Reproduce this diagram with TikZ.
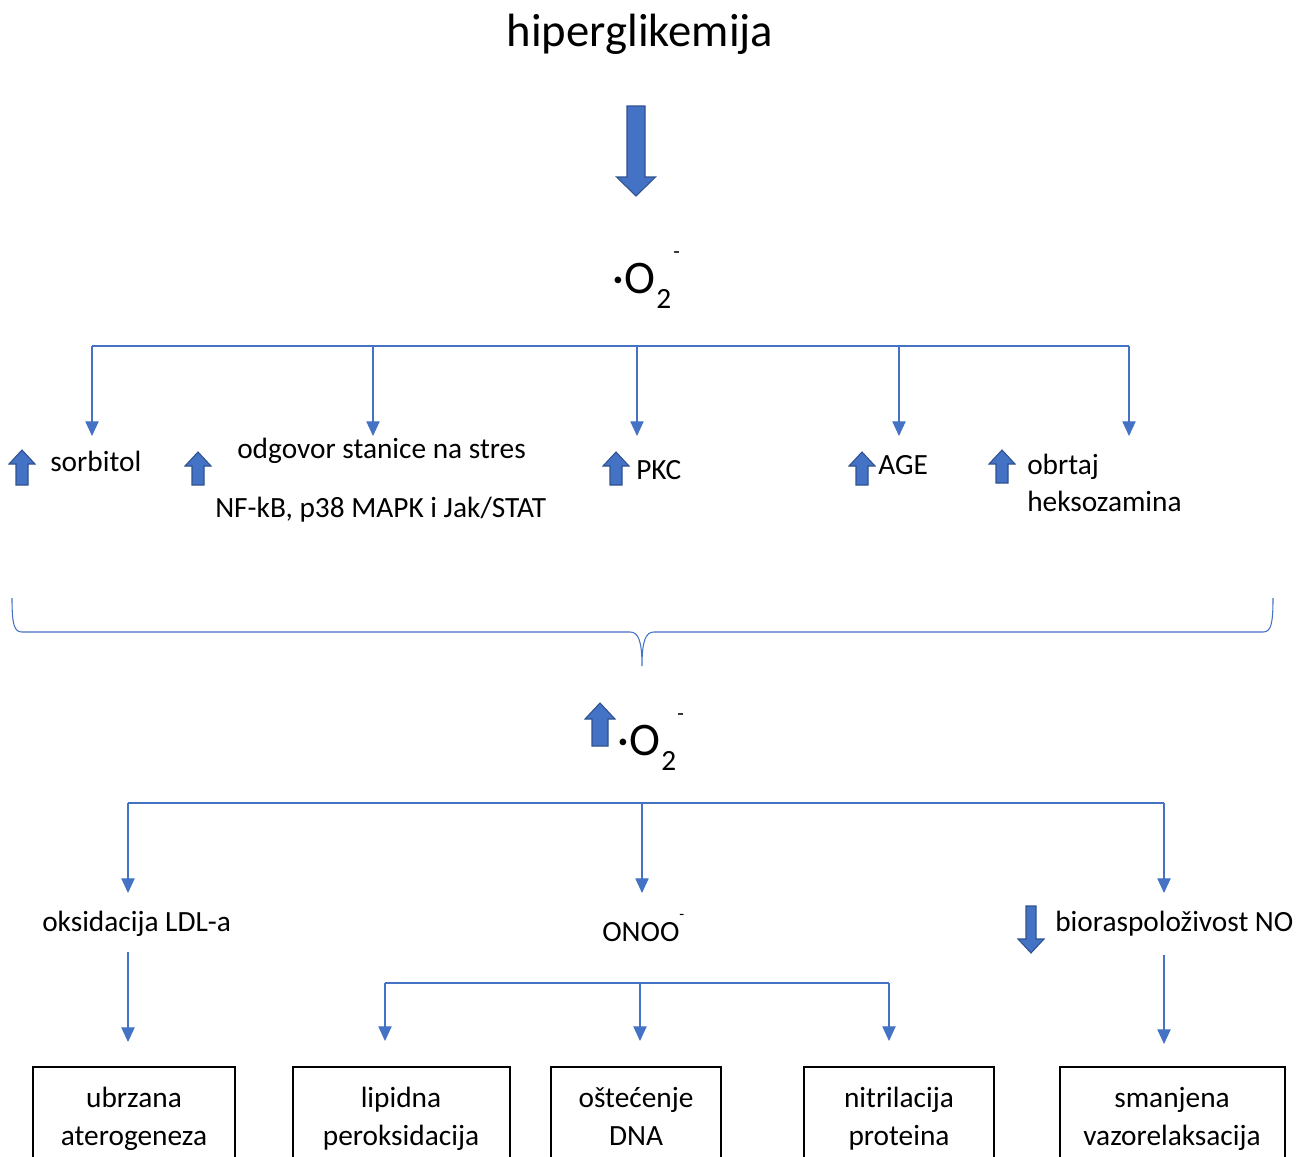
\documentclass[tikz,border=0pt]{standalone}
\usepackage{fontspec}
\setmainfont{Carlito}
\usetikzlibrary{arrows.meta}
\definecolor{cblue}{HTML}{4472C4}
\definecolor{cdark}{HTML}{2F528F}
\newcommand\blkup[6]{% x, ytop, ybot, headw, headh, shaftw
  \draw[blockarrow] (#1-#6/2,#3) -- (#1-#6/2,#2+#5) -- (#1-#4/2,#2+#5) -- (#1,#2) -- (#1+#4/2,#2+#5) -- (#1+#6/2,#2+#5) -- (#1+#6/2,#3) -- cycle;}
\newcommand\blkdown[6]{% x, ytop, ybot(tip), headw, headh, shaftw
  \draw[blockarrow] (#1-#6/2,#2) -- (#1-#6/2,#3-#5) -- (#1-#4/2,#3-#5) -- (#1,#3) -- (#1+#4/2,#3-#5) -- (#1+#6/2,#3-#5) -- (#1+#6/2,#2) -- cycle;}
\begin{document}
\begin{tikzpicture}[x=0.75pt,y=-0.75pt,
  conn/.style={draw=cblue, line width=0.8pt},
  arr/.style={conn, -{Triangle[length=11pt,width=10pt]}},
  blockarrow/.style={fill=cblue, draw=cdark, line width=0.8pt},
  txt/.style={font=\fontsize{22}{28.5}\selectfont, inner sep=0pt},
  bigtxt/.style={font=\fontsize{35}{40}\selectfont, inner sep=0pt},
  subtxt/.style={font=\fontsize{22}{26}\selectfont, inner sep=0pt},
  suptxt/.style={font=\fontsize{16}{18}\selectfont, inner sep=0pt},
  boxline/.style={draw=black, line width=1.5pt}]
\useasboundingbox (0,0) rectangle (1298,1156);
\clip (0,0) rectangle (1298,1156);

% title
\node[bigtxt, anchor=base] (title) at (640,47) {hiperglikemija};
\blkdown{636}{106}{196}{39}{19}{18}

% O2 radical
\node[bigtxt, anchor=base west] (o2a) at (612,293) {·O};
\node[subtxt, anchor=base west] (o2asub) at (656,308) {2};
\node[suptxt, anchor=base west] (o2asup) at (673,258) {-};

% top branch
\coordinate (b1) at (92,346);
\coordinate (b2) at (373,346);
\coordinate (b3) at (637,346);
\coordinate (b4) at (899,346);
\coordinate (b5) at (1129,346);
\draw[conn] (b1) -- (b5);
\coordinate (e1) at (92,436);
\coordinate (e2) at (373,436);
\coordinate (e3) at (637,436);
\coordinate (e4) at (899,436);
\coordinate (e5) at (1129,436);
\foreach \i in {1,...,5} \draw[arr] (b\i) -- (e\i);

% labels row 1
\blkup{22}{450}{485}{26}{14}{12}
\node[txt, anchor=base west] (sorb) at (50,471) {sorbitol};
\blkup{198}{452}{485}{26}{14}{12}
\node[txt, anchor=base west] (odg) at (237,458) {odgovor stanice na stres};
\node[txt, anchor=base west] (nfkb) at (215,517) {NF-kB, p38 MAPK i Jak/STAT};
\blkup{616}{452}{485}{26}{14}{12}
\node[txt, anchor=base west] (pkc) at (636,479) {PKC};
\blkup{862}{452}{485}{26}{14}{12}
\node[txt, anchor=base west] (age) at (878,474) {AGE};
\blkup{1002}{450}{483}{26}{14}{12}
\node[txt, anchor=base west] (obr) at (1027,474) {obrtaj};
\node[txt, anchor=base west] (heks) at (1027,511) {heksozamina};

% brace
\draw[conn] (12,598) .. controls (12,624) and (14,632) .. (22,632) -- (630,632)
  .. controls (638,632) and (642,640) .. (642,666)
  .. controls (642,640) and (646,632) .. (654,632) -- (1263,632)
  .. controls (1271,632) and (1273,624) .. (1273,598);

% second O2
\blkup{600}{703}{746}{30}{16}{16}
\node[bigtxt, anchor=base west] (o2b) at (617,755) {·O};
\node[subtxt, anchor=base west] (o2bsub) at (661,770) {2};
\node[suptxt, anchor=base west] (o2bsup) at (677,720) {-};

% second branch
\coordinate (c1) at (128,803);
\coordinate (c2) at (642,803);
\coordinate (c3) at (1164,803);
\draw[conn] (c1) -- (c3);
\coordinate (f1) at (128,893);
\coordinate (f2) at (642,893);
\coordinate (f3) at (1164,893);
\foreach \i in {1,2,3} \draw[arr] (c\i) -- (f\i);

\node[txt, anchor=base west] (ldl) at (42,931) {oksidacija LDL-a};
\node[txt, anchor=base west] (onoo) at (602,941) {ONOO};
\node[suptxt, font=\fontsize{12}{14}\selectfont, anchor=base west] (onoosup) at (679,919) {-};
\blkdown{1031}{906}{953}{26}{14}{10}
\node[txt, anchor=base west] (bio) at (1055,931) {bioraspoloživost NO};

% lower arrows
\coordinate (g1) at (128,952);
\coordinate (h1) at (128,1042);
\draw[arr] (g1) -- (h1);
\coordinate (g5) at (1164,955);
\coordinate (h5) at (1164,1044);
\draw[arr] (g5) -- (h5);
\coordinate (d1) at (385,983);
\coordinate (d2) at (640,983);
\coordinate (d3) at (889,983);
\draw[conn] (d1) -- (d3);
\coordinate (k1) at (385,1041);
\coordinate (k2) at (640,1041);
\coordinate (k3) at (889,1041);
\foreach \i in {1,2,3} \draw[arr] (d\i) -- (k\i);

% boxes
\draw[boxline] (33,1200) -- (33,1067) -- (235,1067) -- (235,1200);
\draw[boxline] (293,1200) -- (293,1067) -- (510,1067) -- (510,1200);
\draw[boxline] (551,1200) -- (551,1067) -- (721,1067) -- (721,1200);
\draw[boxline] (804,1200) -- (804,1067) -- (994,1067) -- (994,1200);
\draw[boxline] (1060,1200) -- (1060,1067) -- (1285,1067) -- (1285,1200);
\node[txt, anchor=base] (r1a) at (134,1107) {ubrzana};
\node[txt, anchor=base] (r1b) at (134,1145) {aterogeneza};
\node[txt, anchor=base] (r2a) at (401,1107) {lipidna};
\node[txt, anchor=base] (r2b) at (401,1145) {peroksidacija};
\node[txt, anchor=base] (r3a) at (636,1107) {oštećenje};
\node[txt, anchor=base] (r3b) at (636,1145) {DNA};
\node[txt, anchor=base] (r4a) at (899,1107) {nitrilacija};
\node[txt, anchor=base] (r4b) at (899,1145) {proteina};
\node[txt, anchor=base] (r5a) at (1172,1107) {smanjena};
\node[txt, anchor=base] (r5b) at (1172,1145) {vazorelaksacija};
\end{tikzpicture}
\end{document}
